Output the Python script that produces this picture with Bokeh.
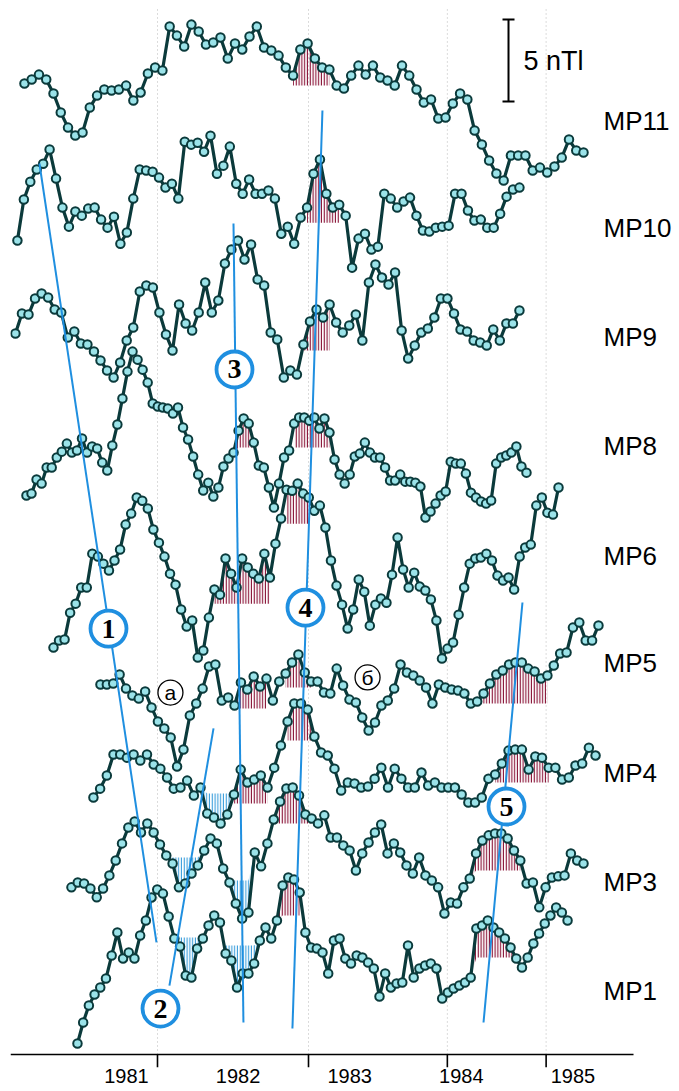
import numpy as np
from bokeh.plotting import figure
from bokeh.models import Range1d, LinearAxis, FixedTicker, ColumnDataSource, LabelSet
from bokeh.core.properties import value
from bokeh.embed import file_html
from bokeh.resources import INLINE

# ---------------- data (nT, relative to each station's baseline) ----------------
stations = ["MP11", "MP10", "MP9", "MP8", "MP6", "MP5", "MP4", "MP3", "MP1"]
offsets = [53.05, 46.52, 39.82, 33.23, 26.52, 20.0, 13.29, 6.59, 0.0]
t_start = [1980.086, 1980.023, 1980.005, 1980.104, 1980.346, 1980.767, 1980.704, 1980.507, 1980.561]
t_end = [1985.095, 1984.521, 1984.521, 1984.584, 1984.871, 1985.229, 1985.203, 1985.095, 1984.952]

mp11 = [2.26, 2.50, 2.80, 2.50, 1.65, 0.49, -0.43, -0.91, -0.73, 0.79,
        1.52, 1.89, 1.83, 1.89, 2.13, 1.22, 1.71, 2.87, 3.23, 3.05,
        5.73, 5.18, 4.51, 5.85, 5.43, 4.63, 4.76, 5.06, 3.78, 4.70,
        4.33, 5.12, 5.73, 4.45, 4.27, 3.96, 3.23, 2.74, 4.33, 4.70,
        3.78, 3.23, 3.11, 2.13, 1.95, 2.74, 3.35, 2.80, 3.35, 2.62,
        2.44, 2.13, 3.35, 2.74, 1.89, 1.10, 1.28, 0.12, 0.18, 1.04,
        1.65, 1.28, -0.61, -1.46, -2.44, -3.23, -3.66, -2.13, -2.13, -2.13,
        -3.05, -2.87, -3.17, -2.80, -2.26, -1.16, -1.83, -1.95]
mp10 = [-0.79, 1.71, 2.80, 3.54, 3.90, 4.76, 2.99, 1.22, 0.06, 0.98,
        0.73, 1.16, 1.22, 0.49, 0.00, 0.67, -0.98, -0.30, 1.77, 3.54,
        3.48, 3.41, 3.05, 2.44, 2.68, 1.77, 5.24, 5.06, 5.18, 4.63,
        5.61, 3.29, 3.78, 4.94, 2.68, 2.07, 2.93, 2.07, 2.07, 2.26,
        1.77, -0.37, 0.06, -0.98, 0.61, 1.22, 3.29, 4.15, 2.07, 1.22,
        1.40, 0.73, -2.44, -0.67, -0.37, -1.34, -1.16, 2.07, 1.77, 1.22,
        1.59, 1.83, 0.73, -0.18, -0.24, 0.00, 0.06, 0.12, 2.07, 2.07,
        1.04, 0.43, 0.49, 0.00, 0.00, 0.85, 1.89, 2.32, 2.44]
mp9 = [0.24, 1.46, 1.40, 2.38, 2.68, 2.44, 1.71, 1.52, 0.00, 0.37,
       -0.37, -0.43, -0.85, -1.40, -2.01, -2.44, -1.52, -0.18, 0.61, 2.80,
       3.17, 3.05, 1.52, 0.18, -0.79, 2.01, 0.85, 0.43, 1.52, 3.35,
       1.52, 2.26, 4.51, 5.37, 5.91, 4.76, 5.67, 3.54, 3.17, 0.30,
       -0.12, -2.44, -2.01, -2.26, -0.43, 0.98, 1.71, 1.22, 2.01, 0.91,
       0.30, 0.73, 1.40, -0.18, 3.35, 4.45, 3.66, 3.23, 3.96, 0.43,
       -1.28, -0.49, 0.30, 0.55, 1.22, 2.38, 2.38, 1.46, 0.49, 0.37,
       -0.18, -0.30, -0.49, 0.49, -0.18, 0.85, 0.85, 1.65]
mp8 = [-3.05, -2.93, -2.07, -2.32, -1.34, -1.34, -0.73, -0.37, 0.12, -0.43,
       -0.30, 0.43, -0.43, -0.06, -0.18, -1.04, -1.52, 0.00, 1.28, 2.87,
       4.51, 5.73, 5.24, 4.63, 3.84, 2.56, 2.38, 2.32, 2.26, 1.95,
       2.32, 1.10, 0.37, -0.67, -1.77, -2.74, -2.26, -3.11, -2.56, -1.28,
       -0.79, -0.43, 0.91, 1.65, 1.34, 0.18, -1.22, -1.34, -2.56, -3.78,
       -2.32, -0.73, -0.30, 1.34, 1.71, 1.71, 1.52, 1.71, 1.04, 1.65,
       0.79, -0.85, -1.77, -2.32, -1.77, -0.67, -0.49, 0.18, -0.43, -0.73,
       -0.73, -1.34, -2.13, -2.13, -1.77, -2.20, -2.20, -2.26, -2.50, -4.39,
       -4.02, -3.54, -3.05, -2.80, -0.98, -1.10, -1.10, -1.71, -2.87, -3.17,
       -3.41, -3.54, -3.35, -1.10, -0.73, -0.61, -0.43, -0.06, -1.28, -1.65]
mp6 = [-5.61, -5.18, -5.12, -3.48, -2.93, -1.95, -1.95, 0.12, -0.06, -0.49,
       -0.91, -0.30, 0.37, 1.89, 2.56, 3.54, 3.35, 2.87, 1.59, 0.79,
       -0.06, -1.10, -1.77, -3.29, -4.33, -3.96, -6.22, -5.79, -3.78, -2.07,
       -2.38, -0.18, -1.10, -1.95, -0.18, -0.73, -1.10, -1.40, 0.12, -1.34,
       0.73, 2.26, 4.02, 3.96, 4.39, 3.78, 3.54, 2.74, 3.05, 1.71,
       -0.30, -1.83, -2.99, -4.45, -3.29, -1.46, -2.20, -4.27, -2.99, -2.62,
       -2.87, -1.16, 1.10, -0.85, -1.95, -1.04, -1.89, -2.13, -2.68, -3.96,
       -6.28, -5.67, -5.30, -3.60, -1.95, -0.49, -0.18, -0.12, 0.12, -0.30,
       -1.22, -1.52, -1.34, -2.07, -0.06, 0.49, 0.67, 3.05, 3.54, 2.62,
       2.50, 4.15]
mp5 = [-1.34, -1.34, -1.28, -0.73, -1.59, -2.01, -2.20, -1.77, -2.74, -3.60,
       -4.02, -4.57, -6.34, -5.30, -3.23, -2.50, -1.59, -0.24, -0.12, -2.32,
       -2.13, -2.62, -1.22, -1.65, -0.85, -1.46, -0.98, -2.32, -1.16, -0.67,
       0.00, 0.49, -0.61, -1.16, -1.16, -1.83, -1.89, -0.37, -1.40, -2.26,
       -2.44, -3.35, -4.15, -3.66, -2.62, -2.32, -1.59, -0.12, -0.61, -0.79,
       -1.10, -1.52, -2.50, -1.34, -1.52, -1.65, -1.71, -1.89, -2.50, -2.38,
       -1.89, -1.28, -0.73, -0.49, -0.12, 0.00, 0.00, -0.37, -0.55, -0.98,
       -0.79, -0.18, 0.55, 0.61, 2.13, 2.44, 1.34, 1.34, 2.26]
mp4 = [-1.52, -0.98, -0.18, 1.10, 1.10, 0.91, 1.10, 0.73, 1.10, 0.49,
       0.24, -0.30, -0.98, -0.91, -0.49, -1.40, -0.91, -2.50, -2.74, -3.11,
       -2.56, -1.34, 0.18, -0.61, -0.43, -0.18, -0.91, 0.30, 1.65, 3.11,
       4.21, 4.21, 3.84, 2.20, 1.22, 1.04, 0.24, -1.10, -0.61, -0.67,
       -0.91, -0.85, -0.37, 0.30, -0.91, 0.24, -0.37, -0.91, -0.91, 0.00,
       -0.79, -0.61, -0.91, -0.91, -0.91, -1.34, -1.83, -1.83, -1.52, -0.37,
       -0.12, 0.55, 1.34, 1.40, 1.40, 0.18, 0.98, 0.91, 0.30, 0.30,
       -0.43, -0.30, 0.43, 0.55, 1.52, 1.04]
mp3 = [-0.30, 0.00, -0.06, -0.37, -0.91, -0.37, 0.43, 1.34, 2.38, 3.35,
       3.72, 3.05, 3.60, 3.05, 2.32, 1.65, 1.16, -0.30, -0.06, 0.55,
       1.04, 1.95, 2.68, 2.38, 0.85, 0.00, -1.28, -2.20, -1.83, 1.83,
       0.98, 2.38, 3.84, 4.94, 5.73, 5.79, 5.30, 4.15, 3.90, 3.60,
       4.09, 2.74, 2.74, 2.26, 1.95, 0.73, 1.77, 2.44, 3.05, 3.54,
       1.77, 2.38, 1.83, 1.04, 0.55, 1.52, 0.43, 0.12, -0.30, -1.89,
       -1.22, -1.28, -0.30, 0.24, 1.77, 2.56, 2.87, 2.99, 2.99, 2.68,
       1.95, 1.34, -0.06, 0.00, -1.52, -0.30, 0.30, 0.37, 0.43, 1.77,
       1.34, 1.16]
mp1 = [-3.23, -1.95, -0.91, -0.24, 0.18, 0.73, 2.13, 3.54, 1.95, 2.32,
       1.95, 3.35, 4.27, 5.67, 6.16, 5.91, 4.51, 3.17, 2.68, 0.91,
       0.79, 2.56, 3.17, 3.96, 4.57, 4.15, 2.26, 1.83, 0.18, 1.04,
       1.04, 1.65, 3.05, 3.84, 3.17, 4.27, 6.40, 6.89, 6.77, 5.98,
       3.54, 2.62, 2.56, 2.32, 1.04, 3.05, 3.17, 1.95, 1.65, 2.13,
       2.01, 1.71, 1.34, -0.37, 1.04, 0.18, 0.43, 0.49, 2.74, 0.79,
       1.34, 1.52, 1.65, 1.34, -0.49, -0.12, 0.12, 0.30, 0.49, 0.79,
       3.78, 3.96, 4.27, 3.84, 3.54, 3.17, 2.62, 1.95, 1.40, 2.01,
       2.87, 3.48, 4.09, 4.57, 5.06, 4.76, 4.27]
series = [mp11, mp10, mp9, mp8, mp6, mp5, mp4, mp3, mp1]

# hatched anomalies: station, first/last sample index, cut level (nT), kind
hatch_station = ["MP11", "MP10", "MP9", "MP8", "MP8", "MP6", "MP6", "MP5", "MP5", "MP5", "MP4",
                 "MP4", "MP4", "MP4", "MP3", "MP3", "MP3", "MP3", "MP1", "MP1", "MP1", "MP1"]
hatch_i0 = [37, 45, 44, 41, 53, 29, 42, 21, 29, 59, 21, 29, 60, 16, 15, 24, 32, 63, 16, 25, 34, 69]
hatch_i1 = [42, 50, 48, 45, 60, 39, 46, 26, 33, 70, 26, 33, 68, 21, 21, 29, 38, 71, 22, 32, 39, 78]
hatch_level = [2.13, 0.30, -0.79, -0.12, -0.12, -2.93, 1.95, -2.80, -1.52, -2.50, -1.89,
               1.95, -0.61, -1.28, 1.52, 0.12, 3.60, 0.73, 3.23, 2.74, 4.57, 2.01]
hatch_kind = ["max"] * 13 + ["min", "min", "min", "max", "max", "min", "min", "max", "max"]

# feature lines (year, level) and their numbers
feat_x0 = [1980.220, 1981.385, 1981.959, 1982.756, 1984.548]
feat_y0 = [50.43, 0.30, 46.77, 53.66, 23.66]
feat_x1 = [1981.269, 1981.780, 1982.048, 1982.487, 1984.199]
feat_y1 = [2.93, 15.98, -1.95, -2.32, -1.95]
num_x = [1980.839, 1981.305, 1981.968, 1982.604, 1984.405]
num_y = [22.07, -1.10, 37.87, 23.35, 11.22]
num_txt = ["1", "2", "3", "4", "5"]
let_x = [1981.394, 1983.160]
let_y = [18.17, 19.09]
let_txt = ["а", "б"]

year_labels = [1981, 1982, 1983, 1984, 1985]
tick_marks = [1981.278, 1982.631, 1983.875, 1984.760]

# ---------------- figure ----------------
LINE = "#0b3a3b"
FILL = "#9be3e9"
RED = "#8a1538"
BLUE = "#3d9fdc"
FEAT = "#1f8fe0"

X0, X1 = 1979.961, 1985.955
Y0, Y1 = -4.695, 60.37
AXIS_Y = -3.902      # level of the time axis line
TICK_LEN = 0.79      # tick length (nT units)
GRID_TOP = 59.88

p = figure(width=679, height=1091, x_range=Range1d(X0, X1), y_range=Range1d(Y0, Y1),
           x_axis_location=None, y_axis_location=None,
           output_backend="svg", toolbar_location=None,
           min_border_left=10, min_border_right=0, min_border_top=0, min_border_bottom=24)
p.outline_line_color = None
p.xgrid.grid_line_color = None
p.ygrid.grid_line_color = None

# year labels axis
axB = LinearAxis(ticker=FixedTicker(ticks=year_labels), axis_line_color=None,
                 major_tick_line_color=None, minor_tick_line_color=None,
                 major_tick_out=0, major_tick_in=0, major_label_standoff=1,
                 major_label_text_font="Liberation Sans", major_label_text_font_size="20px",
                 major_label_text_color="black")
p.add_layout(axB, "below")

# dotted year grid, axis line and ticks
n_t = len(tick_marks)
p.segment(x0=tick_marks, y0=[AXIS_Y] * n_t, x1=tick_marks, y1=[GRID_TOP] * n_t,
          line_color="#b8b8b8", line_dash="1 3", line_width=1)
p.segment(x0=[X0], y0=[AXIS_Y], x1=[1985.543], y1=[AXIS_Y], line_color="black", line_width=1.6)
p.segment(x0=tick_marks, y0=[AXIS_Y] * n_t, x1=tick_marks, y1=[AXIS_Y - TICK_LEN] * n_t,
          line_color="black", line_width=1.6)

xs_all = [np.linspace(a, b, len(v)) for a, b, v in zip(t_start, t_end, series)]

# hatches
for st, i0, i1, lev, kind in zip(hatch_station, hatch_i0, hatch_i1, hatch_level, hatch_kind):
    k = stations.index(st)
    xs = xs_all[k][i0:i1 + 1]
    ys = np.array(series[k][i0:i1 + 1])
    if kind == "max":
        lo = np.minimum(ys, lev)
        col = RED
    else:
        lo = np.maximum(ys, lev)
        col = BLUE
    p.varea(x=xs, y1=ys + offsets[k], y2=lo + offsets[k], fill_color=None, fill_alpha=0,
            hatch_pattern="|", hatch_color=col, hatch_scale=2.8, hatch_weight=1.4)

# curves
for k in range(len(stations)):
    ys = np.array(series[k]) + offsets[k]
    p.line(xs_all[k], ys, line_color=LINE, line_width=3.2)
for k in range(len(stations)):
    ys = np.array(series[k]) + offsets[k]
    p.scatter(xs_all[k], ys, marker="circle", size=8.5, fill_color=FILL,
              line_color=LINE, line_width=2)

# feature lines
p.segment(x0=feat_x0, y0=feat_y0, x1=feat_x1, y1=feat_y1, line_color=FEAT, line_width=2)
p.scatter(num_x, num_y, marker="circle", size=36, fill_color="white",
          line_color=FEAT, line_width=3.8)
p.text(num_x, num_y, text=num_txt, text_align="center", text_baseline="middle",
       text_font=value("Liberation Serif"), text_font_style="bold",
       text_font_size="28px", text_color="black")

p.scatter(let_x, let_y, marker="circle", size=25, fill_color="white",
          line_color="black", line_width=1.3)
p.text(let_x, let_y, text=let_txt, text_align="center", text_baseline="middle",
       text_font=value("Liberation Sans"), text_font_size="21px", text_color="black")

# scale bar 5 nT
sb_x = 1984.423
sb_top = 59.21
sb_len = 5.0
p.segment(x0=[sb_x], y0=[sb_top], x1=[sb_x], y1=[sb_top - sb_len], line_color="black", line_width=2)
p.scatter([sb_x, sb_x], [sb_top, sb_top - sb_len], marker="dash", size=12,
          line_color="black", line_width=2)
p.text([1984.557], [sb_top - sb_len / 2], text=["5 nTl"], text_align="left",
       text_baseline="middle", text_font=value("Liberation Sans"),
       text_font_size="27px", text_color="black")

# station labels
lab_src = ColumnDataSource(dict(x=[1985.274] * len(stations), y=offsets, t=stations))
p.add_layout(LabelSet(x="x", y="y", text="t", source=lab_src, text_align="left",
                      text_baseline="middle", text_font=value("Liberation Sans"),
                      text_font_size="26px", text_color="black"))

open("out.html", "w").write(file_html(p, INLINE))
